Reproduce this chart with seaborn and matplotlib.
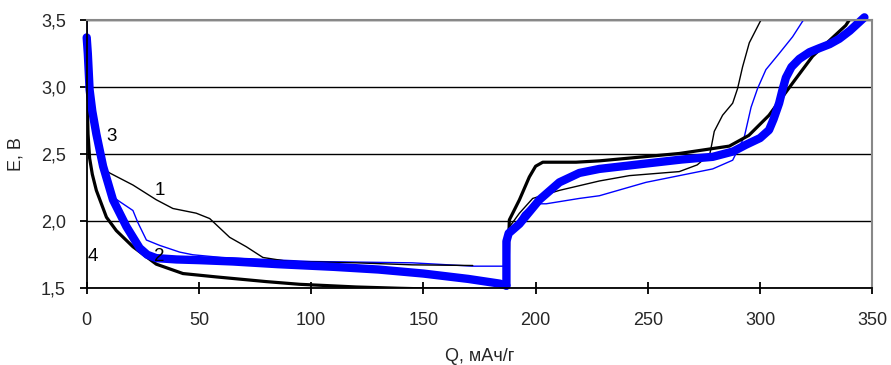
import seaborn as sns
import pandas as pd
import matplotlib
matplotlib.use("Agg")
import matplotlib.pyplot as plt
from matplotlib.ticker import FuncFormatter

# curve 1 - thin black
q1_dis = [0, 2, 4.3, 7.3, 10.2, 20.6, 31, 38.4, 48.8, 54.8, 63.7, 71.1, 78.5, 90, 120, 145, 172]
e1_dis = [3.3, 2.9, 2.62, 2.4, 2.36, 2.27, 2.16, 2.095, 2.06, 2.02, 1.88, 1.81, 1.73, 1.7, 1.69, 1.675, 1.67]
q1_chg = [187, 188, 192.8, 198.7, 210.6, 228.4, 241.8, 264, 272, 277.6, 278.1, 279.6, 283.3, 287.8, 290, 292.2, 295.2, 300.4]
e1_chg = [1.67, 1.95, 2.06, 2.17, 2.23, 2.3, 2.34, 2.37, 2.42, 2.5, 2.54, 2.67, 2.79, 2.88, 2.99, 3.15, 3.33, 3.5]

# curve 2 - thin blue
q2_dis = [0, 0.5, 1.3, 4.3, 7.3, 11.7, 20.6, 22.8, 26.6, 32.5, 41.4, 47.3, 60, 100, 145, 172, 187]
e2_dis = [3.52, 3.3, 3.0, 2.65, 2.4, 2.18, 2.08, 1.99, 1.86, 1.82, 1.77, 1.75, 1.73, 1.7, 1.69, 1.665, 1.665]
q2_chg = [187, 188, 194.3, 198.7, 204.7, 219.5, 228.4, 249.2, 278.9, 287.8, 293, 296, 298.9, 302.6, 308.5, 314.5, 319.7]
e2_chg = [1.665, 1.9, 2.06, 2.13, 2.13, 2.17, 2.19, 2.29, 2.39, 2.455, 2.63, 2.85, 2.99, 3.13, 3.25, 3.375, 3.51]

# curve 3 - thick blue
q3_dis = [0, 0.5, 1.3, 2.5, 4.3, 7.3, 11.7, 17.7, 23.6, 27, 31, 40, 50, 65, 85, 110, 130, 150, 170, 184, 187]
e3_dis = [3.37, 3.25, 2.98, 2.82, 2.65, 2.41, 2.16, 1.96, 1.8, 1.75, 1.725, 1.715, 1.71, 1.7, 1.68, 1.66, 1.64, 1.61, 1.57, 1.535, 1.52]
q3_chg = [187, 187, 188, 192.8, 201.7, 210.6, 219.5, 228.4, 249.2, 265, 278.9, 288, 293.7, 300, 304, 306, 308.5, 310,
          311.5, 314, 317.5, 322, 326.4, 331, 335.3, 340, 346.5]
e3_chg = [1.52, 1.85, 1.91, 1.98, 2.16, 2.29, 2.36, 2.39, 2.43, 2.46, 2.48, 2.52, 2.57, 2.62, 2.68, 2.76, 2.88, 2.98,
          3.07, 3.15, 3.21, 3.26, 3.29, 3.32, 3.36, 3.42, 3.52]

# curve 4 - thick black
q4_dis = [0, 0.3, 0.6, 1.3, 2.5, 4.3, 8.8, 13.2, 20.6, 31, 42.9, 57.7, 80, 94.8, 120, 140, 166]
e4_dis = [3.08, 2.85, 2.65, 2.47, 2.35, 2.23, 2.03, 1.93, 1.81, 1.68, 1.61, 1.585, 1.55, 1.53, 1.51, 1.5, 1.49]
q4_chg = [187.6, 188, 188.3, 192.8, 197.2, 200, 203.2, 218, 228.4, 264, 286.3, 295, 304, 314.5, 323.4, 338.2, 340.5]
e4_chg = [1.51, 1.85, 2.01, 2.16, 2.33, 2.41, 2.44, 2.44, 2.45, 2.505, 2.56, 2.64, 2.79, 3.03, 3.23, 3.46, 3.52]

curve_labels = ["1", "2", "3", "4"]
label_q = [32.5, 32.5, 11.1, 2.7]
label_e = [2.23, 1.74, 2.63, 1.74]

sns.set_theme(style="white")
plt.rcParams['font.family'] = ['Liberation Sans', 'DejaVu Sans']

fig = plt.figure(figsize=(8.91, 3.65), dpi=100)
ax = fig.add_axes([0.0973, 0.2101, 0.8817, 0.7351])

def draw(q, e, color, lw, clip=True):
    df = pd.DataFrame({"Q": q, "E": e})
    sns.lineplot(data=df, x="Q", y="E", sort=False, estimator=None,
                 color=color, linewidth=lw, ax=ax, clip_on=clip)

draw(q2_dis, e2_dis, "#0000ff", 1.0)
draw(q2_chg, e2_chg, "#0000ff", 1.0)
draw(q1_dis, e1_dis, "black", 1.0)
draw(q1_chg, e1_chg, "black", 1.0)
draw(q4_dis, e4_dis, "black", 2.3)
draw(q4_chg, e4_chg, "black", 2.3)
draw(q3_dis, e3_dis, "#0000ff", 6.0, clip=False)
draw(q3_chg, e3_chg, "#0000ff", 6.0, clip=False)

for lab, x, y in zip(curve_labels, label_q, label_e):
    ax.text(x, y, lab, fontsize=13.5, ha="center", va="center", color="black")

ax.set_xlim(0, 350)
ax.set_ylim(1.5, 3.5)
ax.set_xticks([0, 50, 100, 150, 200, 250, 300, 350])
ax.set_yticks([1.5, 2.0, 2.5, 3.0, 3.5])
ax.yaxis.set_major_formatter(FuncFormatter(lambda v, p: f"{v:.1f}".replace(".", ",")))
ax.grid(axis="y", color="black", linewidth=1.0)
ax.grid(axis="x", visible=False)

for side in ["left", "bottom"]:
    ax.spines[side].set_color("black")
    ax.spines[side].set_linewidth(1.3)
for side in ["top", "right"]:
    ax.spines[side].set_color("#888888")
    ax.spines[side].set_linewidth(1.5)

ax.tick_params(axis="x", direction="inout", length=8, width=1.3, color="black",
               labelsize=13, pad=13, bottom=True)
ax.tick_params(axis="y", direction="out", length=5, width=1.3, color="black",
               labelsize=13, pad=10, left=True)

ax.set_xlabel("Q, мАч/г", fontsize=13, va="center")
ax.set_ylabel("E, B", fontsize=13, va="center")
ax.xaxis.set_label_coords(0.5, -0.253)
ax.yaxis.set_label_coords(-0.09, 0.5)

fig.savefig("out.png", dpi=100)
